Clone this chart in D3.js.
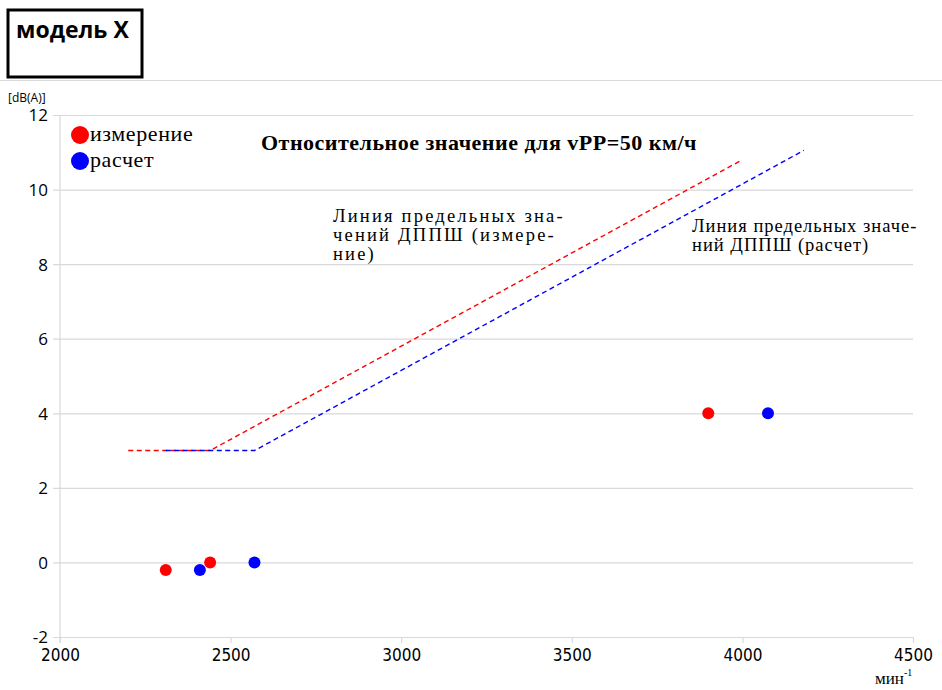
<!DOCTYPE html>
<html>
<head>
<meta charset="utf-8">
<script src="https://cdn.jsdelivr.net/npm/d3@7"></script>
<style>
  html, body { margin: 0; padding: 0; background: #fff; }
  svg { display: block; }
</style>
</head>
<body>
<svg id="chart" width="942" height="690"></svg>
<script>
// Measured and calculated noise points (engine speed, min^-1 ; relative level, dB(A))
const measuredRpm = [2310, 2440, 3900];
const measuredDb  = [-0.2, 0, 4];
const calcRpm     = [2410, 2570, 4075];
const calcDb      = [-0.2, 0, 4];

// Limit lines (measured and calculated)
const limitMeasRpm = [2200, 2440, 4000];
const limitMeasDb  = [3, 3, 10.8];
const limitCalcRpm = [2310, 2570, 4180];
const limitCalcDb  = [3, 3, 11.05];

// Axis ticks
const xTicks = [2000, 2500, 3000, 3500, 4000, 4500];
const yTicks = [-2, 0, 2, 4, 6, 8, 10, 12];

const svg = d3.select("#chart");
const gridColor = "#d9d9d9";
const serif = "'Liberation Serif', 'Times New Roman', serif";
const sans = "'Open Sans', 'Liberation Sans', sans-serif";
const narrow = "'DejaVu Sans Condensed', 'Liberation Sans Narrow', sans-serif";

const x = d3.scaleLinear().domain([2000, 4500]).range([60, 913]);
const y = d3.scaleLinear().domain([-2, 12]).range([637, 115]);

// Header box
svg.append("rect").attr("x", 8).attr("y", 10).attr("width", 134).attr("height", 67)
  .attr("fill", "none").attr("stroke", "#000").attr("stroke-width", 3);
svg.append("text").attr("x", 16).attr("y", 38)
  .attr("font-family", sans).attr("font-weight", "bold").attr("font-size", 23)
  .text("модель X");

// Separator under the header
svg.append("line").attr("x1", 0).attr("x2", 942).attr("y1", 80.5).attr("y2", 80.5)
  .attr("stroke", gridColor).attr("stroke-width", 1);

// Horizontal gridlines + y labels
const yAxis = d3.axisLeft(y).tickValues(yTicks).tickSize(-(913 - 53)).tickPadding(5)
  .tickFormat(d => d < 0 ? "-" + Math.abs(d) : String(d));
const gy = svg.append("g").attr("transform", "translate(53,0)").call(yAxis);
gy.select(".domain").remove();
gy.selectAll(".tick line").attr("stroke", gridColor).attr("stroke-width", 1.2);
gy.selectAll(".tick text").attr("font-family", sans).attr("font-size", 17)
  .attr("fill", "#000").attr("x", -5).attr("dy", "0.35em");

// Vertical axis line
svg.append("line").attr("x1", x(2000)).attr("x2", x(2000)).attr("y1", y(12)).attr("y2", y(-2) + 6)
  .attr("stroke", gridColor).attr("stroke-width", 1.2);

// X axis ticks + labels
const xAxis = d3.axisBottom(x).tickValues(xTicks).tickSize(6).tickPadding(6)
  .tickFormat(d3.format("d"));
const gx = svg.append("g").attr("transform", `translate(0,${y(-2)})`).call(xAxis);
gx.select(".domain").remove();
gx.selectAll(".tick line").attr("stroke", gridColor).attr("stroke-width", 1.2);
gx.selectAll(".tick text").attr("font-family", narrow).attr("font-size", 17).attr("fill", "#000");

// Axis unit labels
svg.append("text").attr("x", 8).attr("y", 102)
  .attr("font-family", sans).attr("font-size", 12).text("[dB(A)]");
const unit = svg.append("text").attr("x", 875).attr("y", 684)
  .attr("font-family", serif).attr("font-size", 17);
unit.append("tspan").text("мин");
unit.append("tspan").attr("dy", -8).attr("font-size", 10).text("-1");

// Limit lines
const line = d3.line().x(d => x(d[0])).y(d => y(d[1]));
const limits = [
  { rpm: limitMeasRpm, db: limitMeasDb, color: "#ff0000" },
  { rpm: limitCalcRpm, db: limitCalcDb, color: "#0000ff" }
];
limits.forEach(l => {
  svg.append("path").datum(d3.zip(l.rpm, l.db)).attr("d", line)
    .attr("fill", "none").attr("stroke", l.color).attr("stroke-width", 1.4)
    .attr("stroke-dasharray", "5,3.5");
});

// Points
const series = [
  { rpm: measuredRpm, db: measuredDb, color: "#ff0000" },
  { rpm: calcRpm, db: calcDb, color: "#0000ff" }
];
series.forEach(s => {
  svg.append("g").selectAll("circle").data(d3.zip(s.rpm, s.db)).join("circle")
    .attr("cx", d => x(d[0])).attr("cy", d => y(d[1])).attr("r", 6).attr("fill", s.color);
});

// Legend
const legend = [
  { label: "измерение", color: "#ff0000" },
  { label: "расчет", color: "#0000ff" }
];
legend.forEach((l, i) => {
  const cy = 135 + i * 26;
  svg.append("circle").attr("cx", 80).attr("cy", cy).attr("r", 9).attr("fill", l.color);
  svg.append("text").attr("x", 90).attr("y", cy + 6)
    .attr("font-family", serif).attr("font-size", 22).attr("letter-spacing", 0.6).text(l.label);
});

// Title
svg.append("text").attr("x", 261).attr("y", 150)
  .attr("font-family", serif).attr("font-weight", "bold").attr("font-size", 22)
  .attr("letter-spacing", 0.5)
  .text("Относительное значение для vPP=50 км/ч");

// Limit line annotations
const noteMeas = ["Линия предельных зна-", "чений ДППШ (измере-", "ние)"];
const noteCalc = ["Линия предельных значе-", "ний ДППШ (расчет)"];
function note(lines, x0, y0, spacing) {
  const t = svg.append("text").attr("font-family", serif).attr("font-size", 18.5)
    .attr("letter-spacing", spacing);
  lines.forEach((s, i) => {
    t.append("tspan").attr("x", x0).attr("y", y0 + i * 19).text(s);
  });
}
note(noteMeas, 333, 222, 2.2);
note(noteCalc, 692, 232, 1.0);
</script>
</body>
</html>
